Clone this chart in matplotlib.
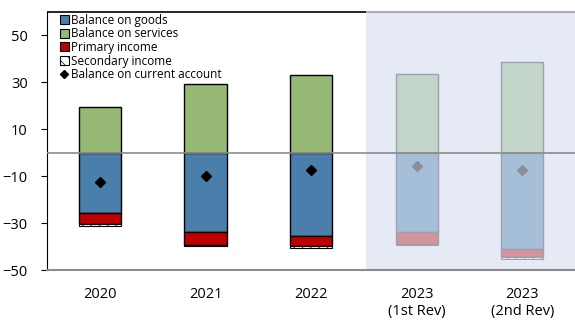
import numpy as np
import matplotlib.pyplot as plt
from matplotlib.patches import Patch
from matplotlib.lines import Line2D

plt.rcParams['font.family'] = ['Open Sans', 'DejaVu Sans']
plt.rcParams['hatch.linewidth'] = 0.5

years = ['2020', '2021', '2022', '2023\n(1st Rev)', '2023\n(2nd Rev)']
goods = [-25.7, -33.8, -35.3, -33.8, -41.1]
services = [19.4, 29.1, 33.0, 33.4, 38.5]
primary = [-4.7, -5.6, -4.5, -5.1, -3.4]
secondary = [-0.9, -0.3, -0.7, -0.5, -0.8]
current = [-12.3, -10.0, -7.4, -5.5, -7.3]
n_actual = 3  # first three are actual, rest are projections

x = np.arange(len(years))
w = 0.4
split = 2.52

fig = plt.figure(figsize=(5.75, 3.2), dpi=100)
ax = fig.add_axes([0.082, 0.156, 0.918, 0.807])
ax.set_xlim(-0.5, 4.5)
ax.set_ylim(-50, 60)

# shaded projection area
ax.axvspan(split, 4.5, color='#E6EAF5', zorder=0, lw=0)

dark = dict(goods='#4A7EAB', services='#96BA76', primary='#C00000', sec='white', edge='black', dot='black')
light = dict(goods='#A6BFD9', services='#C3D5C8', primary='#D6929C', sec='#EEF0F6', edge='#9AA2AE', dot='#8A8F98')

for i in x:
    c = dark if i < n_actual else light
    g, s, p, sc = goods[i], services[i], primary[i], secondary[i]
    ax.bar(i, s, w, bottom=0, color=c['services'], edgecolor=c['edge'], lw=1, zorder=2)
    ax.bar(i, g, w, bottom=0, color=c['goods'], edgecolor=c['edge'], lw=1, zorder=2)
    ax.bar(i, p, w, bottom=g, color=c['primary'], edgecolor=c['edge'], lw=1, zorder=2)
    ax.bar(i, sc, w, bottom=g + p, color=c['sec'], edgecolor=c['edge'], lw=0.8,
           hatch='////', zorder=2)
    ax.plot(i, current[i], marker='D', ms=5.5, color=c['dot'], ls='none', zorder=4)

ax.axhline(0, color='#8C8C8C', lw=1.2, zorder=3)

# top border: black over actual years, grey over the projection area
ax.spines['top'].set_visible(False)
ax.hlines(60, -0.5, split, color='black', lw=1.2, clip_on=False, zorder=5)
ax.hlines(60, split, 4.5, color='#A8ACB4', lw=1.5, clip_on=False, zorder=5)

ax.set_yticks([50, 30, 10, -10, -30, -50])
ax.set_xticks(x)
ax.set_xticklabels(years)
ax.tick_params(axis='y', labelsize=10.5, length=4, direction='out', pad=10)
ax.tick_params(axis='x', labelsize=10.5, length=0, pad=12)

ax.spines['right'].set_visible(False)
ax.spines['left'].set_color('black')
ax.spines['bottom'].set_color('#8C8C8C')
ax.spines['bottom'].set_linewidth(1.5)

handles = [
    Patch(facecolor=dark['goods'], edgecolor='black', lw=0.8, label='Balance on goods'),
    Patch(facecolor=dark['services'], edgecolor='black', lw=0.8, label='Balance on services'),
    Patch(facecolor=dark['primary'], edgecolor='black', lw=0.8, label='Primary income'),
    Patch(facecolor='white', edgecolor='black', lw=0.8, hatch='\\\\\\', label='Secondary income'),
    Line2D([], [], marker='D', color='black', ls='none', ms=4.5, label='Balance on current account'),
]
ax.legend(handles=handles, loc='upper left', bbox_to_anchor=(0.01, 1.02), frameon=False,
          fontsize=8.5, handlelength=0.8, handleheight=0.8, handletextpad=0.2,
          labelspacing=0.05, borderaxespad=0.2)

fig.savefig('out.png', dpi=100)
